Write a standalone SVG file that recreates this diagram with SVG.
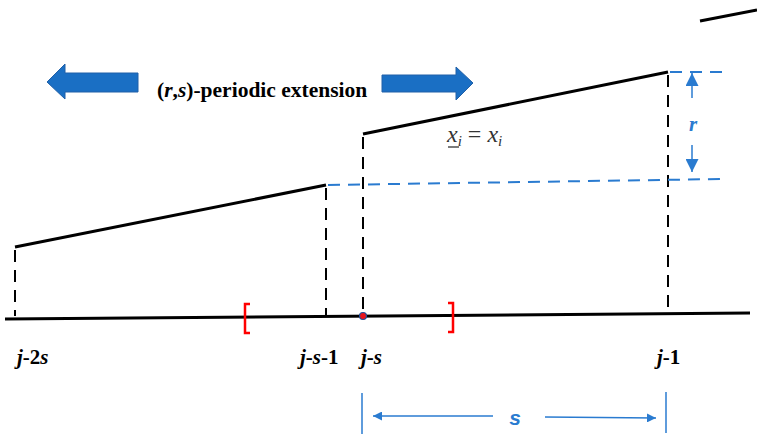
<svg xmlns="http://www.w3.org/2000/svg" width="757" height="436" viewBox="0 0 757 436">
<style>
.solid{stroke:#000;stroke-width:3;fill:none}
.dash{stroke:#000;stroke-width:2;stroke-dasharray:12,8;fill:none}
.bdash{stroke:#2a7bd0;stroke-width:2;stroke-dasharray:12,8;fill:none}
.blue{stroke:#2a7bd0;stroke-width:1.5;fill:none}
.brk{stroke:#ff0000;stroke-width:2.5;fill:none}
.serif{font-family:"Liberation Serif","Times New Roman","DejaVu Serif",serif}
.lab{font-weight:bold;font-style:italic;font-size:21px;fill:#000}
.big{fill:#1a6fc4;stroke:#2060a8;stroke-width:1}
</style>
<defs>
<marker id="ah" viewBox="0 0 10 10" refX="10" refY="5" markerWidth="9" markerHeight="9" markerUnits="userSpaceOnUse" orient="auto"><path d="M0,0 L10,5 L0,10 z" fill="#2a7bd0"/></marker>
<marker id="ah2" viewBox="0 0 10 10" refX="10" refY="5" markerWidth="13" markerHeight="13" markerUnits="userSpaceOnUse" orient="auto"><path d="M0,0 L10,5 L0,10 z" fill="#2a7bd0"/></marker>
</defs>
<g id="axis"><line x1="5" y1="319" x2="750" y2="313" class="solid"/></g>
<g id="connectors">
<line x1="700" y1="21" x2="757" y2="10" class="solid"/>
<line x1="15" y1="247" x2="326" y2="185" class="solid"/>
<line x1="363" y1="134" x2="668" y2="72" class="solid"/>
<line x1="15" y1="250" x2="15" y2="316" class="dash"/>
<line x1="326" y1="188" x2="326" y2="316" class="dash"/>
<line x1="363" y1="137" x2="363" y2="314" class="dash"/>
<line x1="668" y1="75" x2="668" y2="312" class="dash"/>
<line x1="328" y1="185" x2="722" y2="179" class="bdash"/>
<line x1="670" y1="72" x2="722" y2="72" class="bdash"/>
<line x1="692" y1="98" x2="692" y2="73" class="blue" marker-end="url(#ah2)"/>
<line x1="692" y1="145" x2="692" y2="172" class="blue" marker-end="url(#ah2)"/>
<line x1="362" y1="393" x2="362" y2="434" class="blue"/>
<line x1="666" y1="392" x2="666" y2="433" class="blue"/>
<line x1="493" y1="416" x2="373" y2="416" class="blue" marker-end="url(#ah)"/>
<line x1="545" y1="417" x2="656" y2="418" class="blue" marker-end="url(#ah)"/>
</g>
<g id="brackets">
<path d="M250,304 L245,304 L245,333 L250,333" class="brk"/>
<path d="M448,303 L453,303 L453,332 L448,332" class="brk"/>
</g>
<g id="dot"><circle cx="363" cy="316" r="3.5" fill="#e8141c" stroke="#1f4e9a" stroke-width="1.2"/></g>
<g id="arrow-left"><path d="M47,82 L65,64 L65,73 L138,73 L138,92 L65,92 L65,99 Z" class="big"/></g>
<g id="arrow-right"><path d="M382,75 L456,75 L456,67 L473,83 L456,100 L456,92 L382,92 Z" class="big"/></g>
<g id="title"><text x="157" y="97" class="serif" font-size="21.5" font-weight="bold">(<tspan font-style="italic">r</tspan>,<tspan font-style="italic">s</tspan>)-periodic extension</text></g>
<g id="eq">
<text x="447" y="142" class="serif" font-style="italic" font-size="24" fill="#333">x<tspan font-size="15" dy="4">i</tspan><tspan dy="-4" font-style="normal"> = </tspan>x<tspan font-size="15" dy="4">i</tspan></text>
<line x1="448" y1="147" x2="459" y2="147" stroke="#333" stroke-width="1.3"/>
</g>
<g id="labels">
<text x="17" y="364" class="serif lab">j<tspan font-style="normal">-2</tspan>s</text>
<text x="300" y="364" class="serif lab">j<tspan font-style="normal">-</tspan>s<tspan font-style="normal">-1</tspan></text>
<text x="361" y="364" class="serif lab">j<tspan font-style="normal">-</tspan>s</text>
<text x="657" y="364" class="serif lab">j<tspan font-style="normal">-1</tspan></text>
<text x="693" y="131" text-anchor="middle" class="serif" font-weight="bold" font-style="italic" font-size="21" fill="#2a7bd0">r</text>
<text x="515" y="425" text-anchor="middle" font-family="'Liberation Sans',sans-serif" font-weight="bold" font-style="italic" font-size="21" fill="#2a7bd0">s</text>
</g>
</svg>
